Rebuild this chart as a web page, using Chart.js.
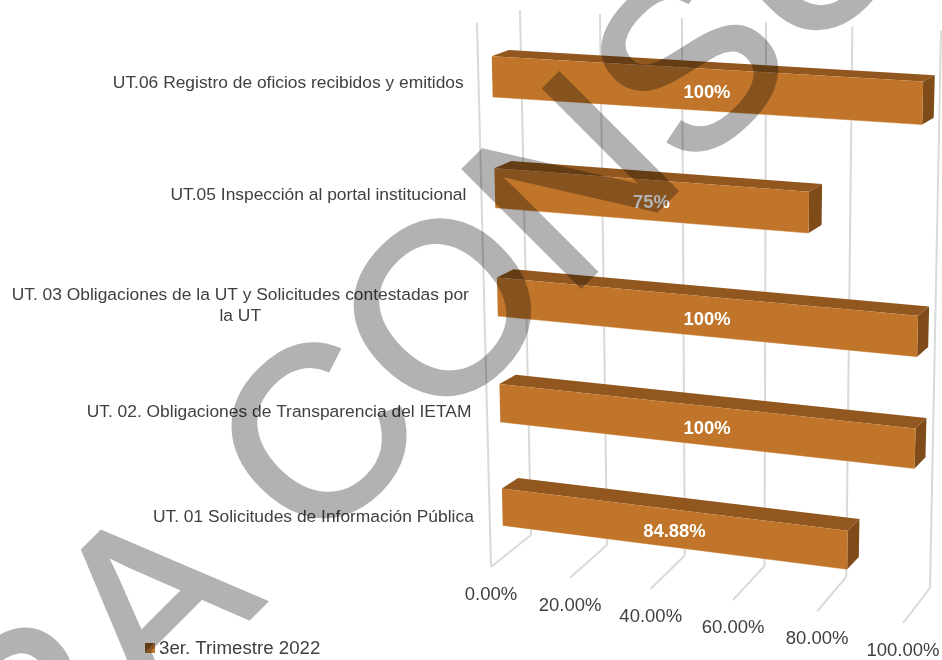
<!DOCTYPE html>
<html>
<head>
<meta charset="utf-8">
<script src="https://cdn.jsdelivr.net/npm/chart.js@4/dist/chart.umd.min.js"></script>
<style>
html,body{margin:0;padding:0;background:#fff}
canvas{display:block}
</style>
</head>
<body>
<canvas id="c" width="942" height="660"></canvas>
<script>
/* ===== data ===== */
const categories = [
  'UT.06 Registro de oficios recibidos y emitidos',
  'UT.05 Inspección al portal institucional',
  ['UT. 03 Obligaciones de la UT y Solicitudes contestadas por','la UT'],
  'UT. 02. Obligaciones de Transparencia del IETAM',
  'UT. 01 Solicitudes de Información Pública'
];
const values = [100, 75, 100, 100, 84.88];
const valueLabels = ['100%', '75%', '100%', '100%', '84.88%'];
const tickValues = [0, 20, 40, 60, 80, 100];
const tickLabels = ['0.00%', '20.00%', '40.00%', '60.00%', '80.00%', '100.00%'];
const seriesName = '3er. Trimestre 2022';
const watermark = 'PARA CONSULTA';

/* ===== colores ===== */
const FRONT = '#C0752A', TOP = '#91571E', SIDE = '#7E4B19', GRID = '#D9D9D9', TEXT = '#404040', EDGE = '#E6BF98';

/* ===== perspectiva: esquinas de cada plano (sup-izq, sup-der, inf-der, inf-izq) ===== */
function quad(p){
  const [[x0,y0],[x1,y1],[x2,y2],[x3,y3]] = p;
  const dx1=x1-x2, dx2=x3-x2, sx=x0-x1+x2-x3, dy1=y1-y2, dy2=y3-y2, sy=y0-y1+y2-y3;
  const den=dx1*dy2-dx2*dy1, g=(sx*dy2-dx2*sy)/den, h=(dx1*sy-sx*dy1)/den;
  const a=x1-x0+g*x1, b=x3-x0+h*x3, d=y1-y0+g*y1, e=y3-y0+h*y3;
  return (u,v)=>{ const w=g*u+h*v+1; return [(a*u+b*v+x0)/w,(d*u+e*v+y0)/w]; };
}
const barFront = quad([[490.9,20],[924,43],[911.5,612],[503.5,558]]);
const barBack  = quad([[508,14],[935.7,37],[922,599],[519.5,547]]);
const wallBack = quad([[520,10],[941,31],[930,588],[531,535]]);
const wallFront= quad([[477,23],[916,52],[903,623],[491,567]]);

function poly(ctx,pts,color){
  ctx.fillStyle=color; ctx.beginPath();
  pts.forEach((p,i)=> i? ctx.lineTo(p[0],p[1]) : ctx.moveTo(p[0],p[1]));
  ctx.closePath(); ctx.fill();
}
function seg(ctx,a,b){ ctx.beginPath(); ctx.moveTo(a[0],a[1]); ctx.lineTo(b[0],b[1]); ctx.stroke(); }

/* ===== dibujo 3D: todo sale de las escalas y elementos de Chart.js ===== */
const bars3d = {
  id:'bars3d',
  beforeDatasetsDraw(chart){
    const {ctx,chartArea:A,scales:{x,y}} = chart;
    const nx = px => (px-A.left)/A.width, ny = py => (py-A.top)/A.height;
    ctx.save();

    // rejilla
    ctx.strokeStyle=GRID; ctx.lineWidth=2;
    x.ticks.forEach((t,i)=>{
      const u=nx(x.getPixelForValue(t.value));
      seg(ctx,wallBack(u,0),wallBack(u,1));
      seg(ctx,wallFront(u,1),wallBack(u,1));
      if(i===0) seg(ctx,wallFront(u,0),wallFront(u,1));
    });

    // barras
    const ds=chart.data.datasets[0];
    ctx.strokeStyle=EDGE; ctx.lineWidth=1;
    chart.getDatasetMeta(0).data.forEach(el=>{
      const u0=nx(el.base), u1=nx(el.x), t0=ny(el.y-el.height/2), t1=ny(el.y+el.height/2);
      seg(ctx,barFront(u0,t1),barFront(u1,t1));
      poly(ctx,[barFront(u0,t0),barFront(u1,t0),barBack(u1,t0),barBack(u0,t0)],ds.topColor);
      poly(ctx,[barFront(u1,t0),barBack(u1,t0),barBack(u1,t1),barFront(u1,t1)],ds.sideColor);
      poly(ctx,[barFront(u0,t0),barFront(u1,t0),barFront(u1,t1),barFront(u0,t1)],ds.backgroundColor);
    });

    // etiquetas de valor
    ctx.fillStyle='#fff'; ctx.font='bold 18.4px "Liberation Sans"';
    ctx.textAlign='center'; ctx.textBaseline='middle';
    chart.getDatasetMeta(0).data.forEach((el,i)=>{
      const [a,b]=[barFront(nx(el.base),ny(el.y-el.height/2)),barFront(nx(el.x),ny(el.y+el.height/2))];
      const [c,d]=[barFront(nx(el.x),ny(el.y-el.height/2)),barFront(nx(el.base),ny(el.y+el.height/2))];
      ctx.fillText(valueLabels[i],(a[0]+b[0]+c[0]+d[0])/4-0.5,(a[1]+b[1]+c[1]+d[1])/4+3);
    });

    // eje de categorías
    ctx.fillStyle=TEXT; ctx.font='17.4px "Liberation Sans"';
    y.ticks.forEach((t,i)=>{
      const n=ny(y.getPixelForTick(i)), p=barFront(0,n);
      const lines=[].concat(t.label), right=p[0]-28.5;
      const w=Math.max(...lines.map(s=>ctx.measureText(s).width));
      ctx.textAlign= lines.length>1 ? 'center' : 'right';
      const tx= lines.length>1 ? right-w/2 : right;
      lines.forEach((s,k)=> ctx.fillText(s,tx,p[1]+6+5*n+(k-(lines.length-1)/2)*21));
    });

    // eje de valores
    ctx.font='18.5px "Liberation Sans"'; ctx.textAlign='center';
    x.ticks.forEach(t=>{
      const p=wallFront(nx(x.getPixelForValue(t.value)),1);
      ctx.fillText(t.label,p[0],p[1]+28);
    });

    // leyenda
    poly(ctx,[[145,643],[155,643],[145,653]],ds.topColor);
    poly(ctx,[[155,643],[155,653],[145,653]],ds.backgroundColor);
    ctx.fillStyle=TEXT; ctx.font='18.7px "Liberation Sans"'; ctx.textAlign='left';
    ctx.fillText(ds.label,159,648.5);

    ctx.restore();
    return false;
  },
  afterDraw(chart){
    // marca de agua: relleno y trazo juntos, luego multiply sobre todo el gráfico
    const off=document.createElement('canvas');
    off.width=chart.width; off.height=chart.height;
    const w=off.getContext('2d');
    w.translate(-184,1051);
    w.rotate(-Math.PI/4);
    w.fillStyle=w.strokeStyle='#B2B2B2';
    w.lineWidth=4.5; w.lineJoin='miter';
    w.font='240px "Liberation Sans"';
    w.textAlign='left'; w.textBaseline='alphabetic';
    w.fillText(watermark,0,0);
    w.strokeText(watermark,0,0);
    const ctx=chart.ctx;
    ctx.save();
    ctx.globalCompositeOperation='multiply';
    ctx.drawImage(off,0,0);
    ctx.restore();
  }
};

new Chart(document.getElementById('c'),{
  type:'bar',
  data:{labels:categories,datasets:[{
    label:seriesName,data:values,
    backgroundColor:FRONT,topColor:TOP,sideColor:SIDE,
    barPercentage:0.36,categoryPercentage:1
  }]},
  options:{
    indexAxis:'y',responsive:false,animation:false,
    layout:{padding:0},
    plugins:{legend:{display:false},tooltip:{enabled:false}},
    scales:{
      x:{min:0,max:100,
         afterBuildTicks:s=>{s.ticks=tickValues.map(value=>({value}))},
         ticks:{display:false,callback:(v,i)=>tickLabels[i]},
         grid:{display:false},border:{display:false}},
      y:{ticks:{display:false},grid:{display:false},border:{display:false}}
    }
  },
  plugins:[bars3d]
});
</script>
</body>
</html>
